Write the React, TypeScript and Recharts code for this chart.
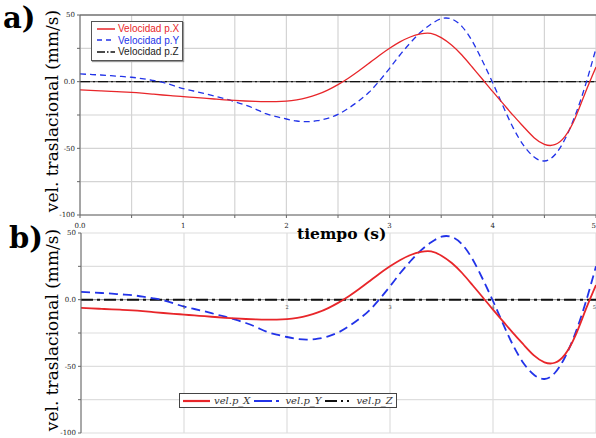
import React from "react";
import {
  LineChart,
  Line,
  XAxis,
  YAxis,
  CartesianGrid,
  ReferenceLine,
  ReferenceDot,
  Legend,
} from "recharts";

// time axis (s)
const tiempo = [
  0, 0.1, 0.2, 0.3, 0.4, 0.5, 0.6, 0.7, 0.8, 0.9, 1, 1.1, 1.2, 1.3, 1.4, 1.5, 1.6, 1.7, 1.8, 1.9, 2, 2.1, 2.2,
  2.3, 2.4, 2.5, 2.6, 2.7, 2.8, 2.9, 3, 3.1, 3.2, 3.3, 3.4, 3.5, 3.6, 3.7, 3.8, 3.9, 4, 4.1, 4.2, 4.3, 4.4,
  4.5, 4.6, 4.7, 4.8, 4.9, 5,
];

// velocidad p.X (mm/s)
const velX = [
  -6.2, -6.5, -6.9, -7.3, -7.6, -8.0, -8.6, -9.3, -10.0, -10.6, -11.2, -11.8, -12.4, -13.0, -13.6, -14.1,
  -14.5, -14.8, -15.0, -15.0, -14.6, -13.6, -12.0, -9.6, -6.3, -2.2, 2.6, 8.0, 13.8, 19.6, 25.0, 29.8, 33.5,
  35.8, 36.2, 33.0, 27.5, 20.0, 11.0, 1.8, -7.5, -16.5, -25.5, -34.0, -42.0, -47.0, -47.3, -41.0, -27.0, -7.5,
  11.0,
];

// velocidad p.Y (mm/s)
const velY = [
  5.8, 5.4, 5.0, 4.5, 3.9, 3.3, 2.3, 1.0, -0.5, -2.8, -5.2, -7.0, -8.8, -10.8, -12.8, -15.0, -17.5, -20.5,
  -24.0, -26.2, -28.0, -29.5, -30.0, -29.3, -27.5, -24.5, -20.0, -14.5, -8.0, 0.5, 10.0, 20.0, 29.0, 37.0,
  43.0, 47.2, 47.0, 41.5, 30.5, 15.5, -1.0, -18.5, -35.0, -48.0, -56.5, -59.5, -55.0, -43.0, -25.0, -2.0, 25.0,
];

// velocidad p.Z (mm/s)
const velZ = [
  0, 0, 0, 0, 0, 0, 0, 0, 0, 0, 0, 0, 0, 0, 0, 0, 0, 0, 0, 0, 0, 0, 0, 0, 0, 0, 0, 0, 0, 0, 0, 0, 0, 0, 0,
  0, 0, 0, 0, 0, 0, 0, 0, 0, 0, 0, 0, 0, 0, 0, 0,
];

const yTicks = [-100, -75, -50, -25, 0, 25, 50];
const xTicksA = [0, 0.5, 1, 1.5, 2, 2.5, 3, 3.5, 4, 4.5, 5];
const xTicksB = [0, 1, 2, 3, 4, 5];
const labelsA = ["Velocidad p.X", "Velocidad p.Y", "Velocidad p.Z"];
const labelsB = ["vel.p_X", "vel.p_Y", "vel.p_Z"];

const data = tiempo.map((t, i) => ({ t, x: velX[i], y: velY[i], z: velZ[i] }));

const serif = "'DejaVu Serif', serif";
const tickStyle = { fontSize: 7, fontFamily: serif, fill: "#222" };

const yFmt = (v: number) => (v === 0 ? "0.0" : v % 50 === 0 ? String(v) : "");
const xFmt = (v: number) => (v === 0 ? "0.0" : Number.isInteger(v) ? String(v) : "");

const colors = ["#e8262a", "#2233e8", "#111"];

// x tick of panel a; the last one is right-aligned so it stays on the page
function XTickA(props: any) {
  const { x, y, payload } = props;
  const v = payload.value;
  return (
    <text x={x} y={y + 8} textAnchor={v === 5 ? "end" : "middle"} {...tickStyle}>
      {xFmt(v)}
    </text>
  );
}

function LegendA() {
  const dash = ["", "5 4", "8 2 1.5 2"];
  return (
    <div
      style={{
        border: "1px solid #555",
        background: "#fff",
        padding: "1px 3px 2px 5px",
        boxShadow: "1px 1px 1px #999",
        fontFamily: "'Liberation Sans', Arial, sans-serif",
        fontSize: 10,
        lineHeight: "11.5px",
      }}
    >
      {labelsA.map((l, i) => (
        <div key={l} style={{ display: "flex", alignItems: "center", whiteSpace: "nowrap" }}>
          <svg width={18} height={6} style={{ marginRight: 3 }}>
            <line x1={0} y1={3} x2={18} y2={3} stroke={colors[i]} strokeWidth={1.5} strokeDasharray={dash[i]} />
          </svg>
          <span style={{ color: i === 2 ? "#222" : colors[i] }}>{l}</span>
        </div>
      ))}
    </div>
  );
}

function LegendB() {
  const dash = ["", "18 4 3 4", "12 4 2 4 2 4"];
  return (
    <div
      style={{
        border: "1px solid #444",
        background: "#fff",
        padding: "0px 3px",
        fontFamily: serif,
        fontStyle: "italic",
        fontSize: 10,
        lineHeight: "13px",
        height: 13,
        display: "flex",
        alignItems: "center",
        whiteSpace: "nowrap",
      }}
    >
      {labelsB.map((l, i) => (
        <span key={l} style={{ display: "flex", alignItems: "center", marginRight: i < 2 ? 4 : 0 }}>
          <svg width={27} height={6} style={{ marginRight: 4 }}>
            <line x1={0} y1={3} x2={27} y2={3} stroke={colors[i]} strokeWidth={2.2} strokeDasharray={dash[i]} />
          </svg>
          <span style={{ color: "#333" }}>{l}</span>
        </span>
      ))}
    </div>
  );
}

const yLabel: React.CSSProperties = {
  position: "absolute",
  width: 240,
  textAlign: "center",
  transform: "rotate(-90deg)",
  fontFamily: serif,
  fontSize: 17,
  whiteSpace: "nowrap",
};

const panelLabel: React.CSSProperties = {
  position: "absolute",
  fontFamily: serif,
  fontWeight: "bold",
  fontSize: 29,
  lineHeight: "34px",
};

export default function App() {
  return (
    <div style={{ position: "relative", width: 596, height: 438, background: "#fff", overflow: "hidden" }}>
      <style>{"body{margin:0}"}</style>

      {/* panel a */}
      <div style={{ position: "absolute", left: 0, top: 0 }}>
        <LineChart width={596} height={235} data={data} margin={{ top: 15, right: 0, bottom: 0, left: 0 }}>
          <CartesianGrid stroke="#d4d4d4" strokeWidth={1.2} verticalValues={xTicksA} />
          <XAxis
            dataKey="t"
            type="number"
            domain={[0, 5]}
            ticks={xTicksA}
            tick={<XTickA />}
            tickSize={3}
            height={20}
            stroke="#666"
            interval={0}
          />
          <YAxis
            type="number"
            domain={[-100, 50]}
            ticks={yTicks}
            tickFormatter={yFmt}
            tick={tickStyle}
            tickSize={3}
            width={80}
            stroke="#666"
            interval={0}
          />
          <ReferenceLine y={50} stroke="#777" strokeWidth={1.5} />
          <ReferenceLine y={0} stroke="#555" strokeWidth={1} />
          <Line type="natural" dataKey="z" stroke="#111" strokeWidth={1.2} strokeDasharray="10 3 2 3" dot={false} isAnimationActive={false} />
          <Line type="natural" dataKey="y" stroke={colors[1]} strokeWidth={1.3} strokeDasharray="6 4" dot={false} isAnimationActive={false} />
          <Line type="natural" dataKey="x" stroke={colors[0]} strokeWidth={1.3} dot={false} isAnimationActive={false} />
          <Legend
            layout="horizontal"
            verticalAlign="middle"
            align="center"
            content={() => <LegendA />}
            wrapperStyle={{ left: 91, top: 21, width: "auto" }}
          />
        </LineChart>
      </div>

      {/* panel b */}
      <div style={{ position: "absolute", left: 0, top: 218 }}>
        <LineChart width={596} height={220} data={data} margin={{ top: 15, right: 0, bottom: 5, left: 0 }}>
          <CartesianGrid stroke="#dedede" strokeWidth={1.2} verticalValues={xTicksB} />
          <XAxis dataKey="t" type="number" domain={[0, 5]} ticks={xTicksB} hide />
          <YAxis
            type="number"
            domain={[-100, 50]}
            ticks={yTicks}
            tickFormatter={yFmt}
            tick={tickStyle}
            tickSize={3}
            width={81}
            stroke="#666"
            interval={0}
          />
          <ReferenceLine y={0} stroke="#888" strokeWidth={1} />
          {xTicksB.slice(1).map((v) => (
            <ReferenceDot
              key={v}
              x={v}
              y={0}
              r={0}
              label={(p: any) => (
                <text
                  x={p.viewBox.x}
                  y={p.viewBox.y + 9}
                  textAnchor={v === 5 ? "end" : "middle"}
                  fontSize={5}
                  fontFamily={serif}
                  fill="#444"
                >
                  {String(v)}
                </text>
              )}
            />
          ))}
          <Line type="natural" dataKey="z" stroke="#111" strokeWidth={2} strokeDasharray="12 4 3 4" dot={false} isAnimationActive={false} />
          <Line type="natural" dataKey="y" stroke={colors[1]} strokeWidth={1.8} strokeDasharray="9 5" dot={false} isAnimationActive={false} />
          <Line type="natural" dataKey="x" stroke={colors[0]} strokeWidth={1.8} dot={false} isAnimationActive={false} />
          <Legend
            layout="horizontal"
            verticalAlign="middle"
            align="center"
            content={() => <LegendB />}
            wrapperStyle={{ left: 179, top: 175, width: "auto" }}
          />
        </LineChart>
      </div>

      {/* titles and axis labels */}
      <div style={{ ...panelLabel, left: 3, top: 1 }}>a)</div>
      <div style={{ ...panelLabel, left: 9, top: 221 }}>b)</div>
      <div style={{ ...yLabel, left: 52 - 120, top: 112 - 11 }}>vel. traslacional (mm/s)</div>
      <div style={{ ...yLabel, left: 52 - 120, top: 331 - 11 }}>vel. traslacional (mm/s)</div>
      <div
        style={{
          position: "absolute",
          left: 297,
          top: 224,
          fontFamily: serif,
          fontWeight: "bold",
          fontSize: 15.5,
          whiteSpace: "nowrap",
        }}
      >
        tiempo (s)
      </div>
    </div>
  );
}
